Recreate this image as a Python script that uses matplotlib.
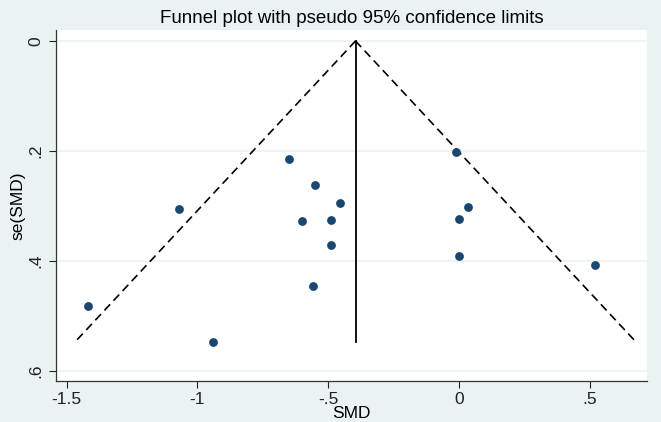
import numpy as np
import matplotlib
matplotlib.use("Agg")
import matplotlib.pyplot as plt

plt.rcParams["font.family"] = ["Liberation Sans", "DejaVu Sans"]

# study effect sizes and their standard errors
smd = [-1.42, -1.07, -0.94, -0.65, -0.55, -0.60, -0.49, -0.455, -0.49, -0.56,
       -0.01, 0.035, 0.0, 0.0, 0.52]
se_smd = [0.481, 0.306, 0.548, 0.215, 0.261, 0.327, 0.325, 0.295, 0.370, 0.445,
          0.201, 0.301, 0.323, 0.391, 0.408]

xticks = [-1.5, -1, -0.5, 0, 0.5]
xtick_labels = ["-1.5", "-1", "-.5", "0", ".5"]
yticks = [0, 0.2, 0.4, 0.6]
ytick_labels = ["0", ".2", ".4", ".6"]

bg = "#EAF2F3"
navy = "#1A476F"

# pooled (fixed effect) estimate and funnel limits
w = 1 / np.array(se_smd) ** 2
pooled = np.sum(w * np.array(smd)) / np.sum(w)
se_max = max(se_smd)
se_line = np.array([0, se_max])

fig = plt.figure(figsize=(6.61, 4.22), dpi=100, facecolor=bg)
ax = fig.add_axes([0.0847, 0.0972, 0.8943, 0.8318])
ax.set_facecolor("white")

for yt in yticks:
    ax.axhline(yt, color=bg, lw=1.2, zorder=0)

ax.plot(pooled - 1.96 * se_line, se_line, color="black", ls=(0, (5, 3)), lw=1.2)
ax.plot(pooled + 1.96 * se_line, se_line, color="black", ls=(0, (5, 3)), lw=1.2)
ax.plot([pooled, pooled], [0, se_max], color="black", lw=1.3)
ax.scatter(smd, se_smd, s=40, color=navy, zorder=3, linewidths=0)

ax.set_xlim(-1.541, 0.719)
ax.set_ylim(0.618, -0.02)
ax.set_xticks(xticks)
ax.set_xticklabels(xtick_labels)
ax.set_yticks(yticks)
ax.set_yticklabels(ytick_labels, rotation=90, va="center")
ax.tick_params(direction="out", length=5, width=0.8, labelsize=12.5, colors="#222222")
ax.tick_params(axis="x", pad=3)
ax.tick_params(axis="y", pad=4)

for side in ["top", "right"]:
    ax.spines[side].set_visible(False)
for side in ["left", "bottom"]:
    ax.spines[side].set_color("#333333")
    ax.spines[side].set_linewidth(0.9)

ax.set_xlabel("SMD", fontsize=12.5, labelpad=-1)
ax.set_ylabel("se(SMD)", fontsize=12.5, labelpad=2)
ax.set_title("Funnel plot with pseudo 95% confidence limits", fontsize=13.5, pad=5)

fig.savefig("out.png", dpi=100, facecolor=bg)
